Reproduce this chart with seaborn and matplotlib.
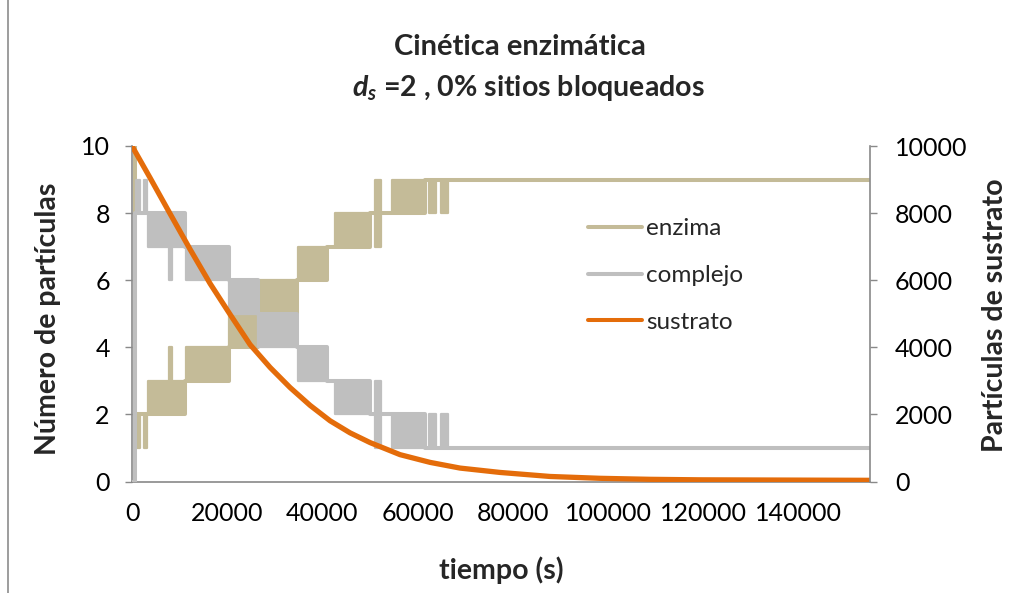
import matplotlib
matplotlib.use("Agg")
import matplotlib.pyplot as plt
from matplotlib.lines import Line2D
import seaborn as sns

# ---- data -------------------------------------------------------------
# Substrate particles (right axis) versus time (s)
substrate_time = [0, 3800, 8000, 12200, 16400, 20600, 24800, 29000, 33200, 37400,
                  41600, 45800, 50000, 56300, 62600, 68900, 77300, 87800, 98300,
                  108800, 119300, 155000]
substrate_count = [10000, 9050, 7980, 6920, 5900, 4980, 4080, 3400, 2800, 2270,
                   1810, 1450, 1160, 800, 570, 400, 270, 150, 95, 65, 50, 35]

# Resting level of free enzyme / enzyme-substrate complex (step function)
step_time = [0, 600, 11200, 20400, 26400, 34700, 41000, 50000, 61500, 155000]
enzyme_level = [10, 2, 3, 4, 5, 6, 7, 8, 9, 9]
complex_level = [0, 8, 7, 6, 5, 4, 3, 2, 1, 1]

# Intervals where the count switches rapidly between two neighbouring values
band_start = [900, 2600, 3400, 7700, 11300, 20400, 26500, 34800, 42600, 51000, 54600, 62300, 65000]
band_end = [1600, 3200, 11100, 8400, 20300, 26300, 34600, 40900, 49800, 52300, 61400, 63900, 66300]
enzyme_band_low = [1, 1, 2, 3, 3, 4, 5, 6, 7, 7, 8, 8, 8]
enzyme_band_high = [2, 2, 3, 4, 4, 5, 6, 7, 8, 9, 9, 9, 9]
complex_band_low = [8, 8, 7, 6, 6, 5, 4, 3, 2, 1, 1, 1, 1]
complex_band_high = [9, 9, 8, 7, 7, 6, 5, 4, 3, 3, 2, 2, 2]

x_ticks = [0, 20000, 40000, 60000, 80000, 100000, 120000, 140000]
left_ticks = [0, 2, 4, 6, 8, 10]
right_ticks = [0, 2000, 4000, 6000, 8000, 10000]
series_names = ["enzima", "complejo", "sustrato"]

# ---- style ------------------------------------------------------------
sns.set_theme(style="white")
plt.rcParams["font.family"] = ["Lato", "DejaVu Sans"]
plt.rcParams["mathtext.fontset"] = "custom"
plt.rcParams["mathtext.it"] = "Lato:italic:bold"
plt.rcParams["mathtext.rm"] = "Lato:bold"
plt.rcParams["mathtext.bf"] = "Lato:bold"

TAN = "#C4BB98"
GREY = "#BFBFBF"
ORANGE = "#E46C0A"
AXIS = "#898989"
LW = 2.9
TICK_FS = 18
LABEL_FS = 20.5

fig = plt.figure(figsize=(10.31, 5.93), dpi=100)
ax = fig.add_axes([132 / 1031, 1 - 481.5 / 593, 738 / 1031, 335.5 / 593])
ax2 = ax.twinx()


def draw_series(level, lows, highs, color, z):
    sns.lineplot(x=step_time, y=level, drawstyle="steps-post", estimator=None,
                 sort=False, color=color, linewidth=LW, ax=ax, zorder=z)
    for s, e, lo, hi in zip(band_start, band_end, lows, highs):
        ax.fill_between([s, e], lo, hi, color=color, edgecolor=color,
                        linewidth=1.6, zorder=z)


draw_series(enzyme_level, enzyme_band_low, enzyme_band_high, TAN, 2)
draw_series(complex_level, complex_band_low, complex_band_high, GREY, 3)

sns.lineplot(x=substrate_time, y=substrate_count, estimator=None, sort=False,
             color=ORANGE, linewidth=3.8, ax=ax2)

# ---- axes -------------------------------------------------------------
ax.set_xlim(0, 155000)
ax.set_ylim(0, 10)
ax2.set_ylim(0, 10000)

ax.set_xticks(x_ticks)
ax.set_xticklabels([str(v) for v in x_ticks])
ax.set_yticks(left_ticks)
ax.set_yticklabels([str(v) for v in left_ticks])
ax2.set_yticks(right_ticks)
ax2.set_yticklabels([str(v) for v in right_ticks])

for a in (ax, ax2):
    a.grid(False)
    a.spines["top"].set_visible(False)
    for side in ("left", "right", "bottom"):
        a.spines[side].set_color(AXIS)
        a.spines[side].set_linewidth(1.2)
ax.spines["right"].set_visible(False)
ax2.spines["left"].set_visible(False)
ax2.spines["bottom"].set_visible(False)

ax.tick_params(axis="x", length=0, pad=15, labelsize=TICK_FS, colors="black")
ax.tick_params(axis="y", left=True, length=5, width=1, color=AXIS, pad=11,
               labelsize=TICK_FS, labelcolor="black", direction="out")
ax2.tick_params(axis="y", right=True, length=5, width=1, color=AXIS, pad=13,
                labelsize=TICK_FS, labelcolor="black", direction="out")

ax.set_xlabel("tiempo (s)", fontsize=LABEL_FS, fontweight="bold")
ax.xaxis.label.set(ha="center", va="center")
ax.xaxis.set_label_coords(0.5, -0.264)

ax.set_ylabel("Número de partículas", fontsize=LABEL_FS, fontweight="bold")
ax.yaxis.label.set(ha="center", va="center", rotation_mode="anchor")
ax.yaxis.set_label_coords(-0.114, 0.486)

ax2.set_ylabel("Partículas de sustrato", fontsize=LABEL_FS, fontweight="bold")
ax2.yaxis.label.set(ha="center", va="center", rotation_mode="anchor")
ax2.yaxis.set_label_coords(1.169, 0.496)

# ---- legend -----------------------------------------------------------
handles = [Line2D([], [], color=c, linewidth=LW)
           for c in (TAN, GREY, ORANGE)]
ax2.legend(handles, series_names, loc="upper left", bbox_to_anchor=(0.618, 0.784),
           frameon=False, fontsize=17.5, handlelength=2.22, handletextpad=0.16,
           labelspacing=1.05, borderpad=0, borderaxespad=0)

# ---- title ------------------------------------------------------------
fig.text(520 / 1031, 1 - 47 / 593, "Cinética enzimática", ha="center",
         va="center", fontsize=21, fontweight="bold")
fig.text(528 / 1031, 1 - 88 / 593, r"$\mathit{d}_{\mathit{s}}$ =2 , 0% sitios bloqueados",
         ha="center", va="center", fontsize=20.5, fontweight="bold")

# chart frame edge on the left
fig.add_artist(Line2D([8 / 1031, 8 / 1031], [0, 1], color="#8C8C8C", linewidth=1.2))

fig.savefig("out.png", dpi=100)
